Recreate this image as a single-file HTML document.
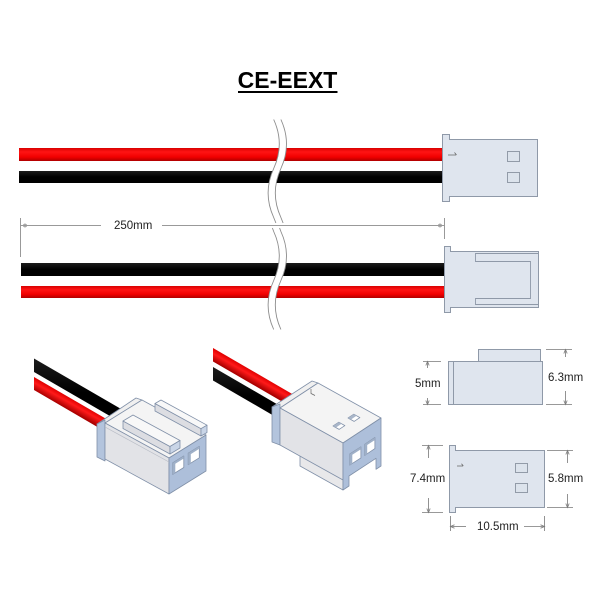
<!DOCTYPE html>
<html><head><meta charset="utf-8"><style>
html,body{margin:0;padding:0;background:#fff;}
svg{display:block;}
text{font-family:"Liberation Sans",Arial,sans-serif;}
</style></head><body>
<svg width="600" height="600" viewBox="0 0 600 600" xmlns="http://www.w3.org/2000/svg">
<defs>
<linearGradient id="rg" x1="0" y1="0" x2="0" y2="1">
<stop offset="0" stop-color="#d80000"/><stop offset="0.3" stop-color="#ff1414"/><stop offset="0.7" stop-color="#f00000"/><stop offset="1" stop-color="#b00000"/>
</linearGradient>
<linearGradient id="bk" x1="0" y1="0" x2="0" y2="1">
<stop offset="0" stop-color="#1c1c1c"/><stop offset="0.5" stop-color="#000"/><stop offset="1" stop-color="#000"/>
</linearGradient>
<linearGradient id="rgL" gradientUnits="userSpaceOnUse" x1="60" y1="392" x2="54.4" y2="401.9">
<stop offset="0" stop-color="#e00000"/><stop offset="0.4" stop-color="#ff1a1a"/><stop offset="1" stop-color="#a80000"/>
</linearGradient>
<linearGradient id="rgR" gradientUnits="userSpaceOnUse" x1="240" y1="363.7" x2="234.4" y2="373.5">
<stop offset="0" stop-color="#e00000"/><stop offset="0.4" stop-color="#ff1a1a"/><stop offset="1" stop-color="#a80000"/>
</linearGradient>
</defs>
<rect width="600" height="600" fill="#fff"/>

<!-- title -->
<text x="287.5" y="88" font-size="23" font-weight="bold" text-anchor="middle" fill="#000">CE-EEXT</text>
<rect x="238" y="91" width="99.5" height="2" fill="#000"/>

<!-- straight wires -->
<rect x="19" y="148" width="424" height="13" fill="url(#rg)"/>
<rect x="19" y="171" width="424" height="12" fill="url(#bk)"/>
<rect x="21" y="263" width="424" height="13" fill="url(#bk)"/>
<rect x="21" y="286" width="424" height="12" fill="url(#rg)"/>

<!-- break marks -->
<g fill="none">
<path d="M277.3,119.5 Q288.5,144 277.3,168.5 Q266.1,193 277.3,217.5 L279.5,223" stroke="#fff" stroke-width="7"/>
<path d="M277.3,119.5 Q288.5,144 277.3,168.5 Q266.1,193 277.3,217.5 L279.5,223" stroke="#8c8c8c" stroke-width="0.9" transform="translate(-3.6,0)"/>
<path d="M277.3,119.5 Q288.5,144 277.3,168.5 Q266.1,193 277.3,217.5 L279.5,223" stroke="#8c8c8c" stroke-width="0.9" transform="translate(3.6,0)"/>
<path d="M276,228 L277.3,231.5 Q288.5,256 277.3,280.5 Q266.1,305 277.3,329.5" stroke="#fff" stroke-width="7"/>
<path d="M276,228 L277.3,231.5 Q288.5,256 277.3,280.5 Q266.1,305 277.3,329.5" stroke="#8c8c8c" stroke-width="0.9" transform="translate(-3.6,0)"/>
<path d="M276,228 L277.3,231.5 Q288.5,256 277.3,280.5 Q266.1,305 277.3,329.5" stroke="#8c8c8c" stroke-width="0.9" transform="translate(3.6,0)"/>
</g>

<!-- 250mm dimension -->
<g stroke="#999" stroke-width="1" fill="none">
<line x1="20.5" y1="218" x2="20.5" y2="257"/>
<line x1="444.5" y1="218" x2="444.5" y2="239"/>
<line x1="21" y1="225.5" x2="101" y2="225.5"/>
<line x1="162" y1="225.5" x2="444" y2="225.5"/>
<circle cx="25" cy="225.5" r="1.4"/>
<circle cx="440" cy="225.5" r="1.4"/>
</g>
<text x="114" y="229" font-size="11.5" fill="#222">250mm</text>

<!-- top flat connector -->
<path d="M442.5,134.5 H449.5 V139.5 H537.5 V196.5 H449.5 V201.5 H442.5 Z" fill="#dfe5ee" stroke="#8f99a8" stroke-width="1"/>
<rect x="507.5" y="151.5" width="12" height="10" fill="#dce3ec" stroke="#8a93a0" stroke-width="0.9"/>
<rect x="507.5" y="172.5" width="12" height="10" fill="#dce3ec" stroke="#8a93a0" stroke-width="0.9"/>
<path d="M448,155 L456,155 M454.5,152.5 L456.5,155" stroke="#666" stroke-width="0.8" fill="none"/>

<!-- bottom flat connector -->
<path d="M444.5,246.5 H450.5 V251.5 H538.5 V307.5 H450.5 V312.5 H444.5 Z" fill="#dfe5ee" stroke="#8f99a8" stroke-width="1"/>
<path d="M538,253.5 L475.5,253.5 L475.5,261.5 L530.5,261.5 L530.5,298.5 L475.5,298.5 L475.5,304.5 L538,304.5" fill="none" stroke="#8f99a8" stroke-width="0.9"/>

<!-- left iso connector -->
<polygon points="34,358.5 128,413 128,426.5 34,372" fill="url(#bk)"/>
<polygon points="34,377 112,422.2 112,435.5 34,390" fill="url(#rgL)"/>
<g stroke="#8090a8" stroke-width="0.8" stroke-linejoin="round">
<polygon points="97,424 136,398 142,400 105,423" fill="#f0f0f0"/>
<polygon points="97,424 105,420 105,461 97,457" fill="#b3c4dd"/>
<polygon points="105,423 142,400 206,435 169,458" fill="#f4f4f4"/>
<polygon points="105,423 169,458 169,494 105,459" fill="#e2e3e7"/>
<polygon points="169,458 206,435 206,471 169,494" fill="#adbfda"/>
<polygon points="155,403.5 201,428.7 201,436 155,411" fill="#dcdde2"/>
<polygon points="155,403.5 161,400 207,425.2 201,428.7" fill="#f8f8f8"/>
<polygon points="201,428.7 207,425.2 207,432.5 201,436" fill="#c9d5e7"/>
<polygon points="123,421 170,446.5 170,454 123,428.5" fill="#dcdde2"/>
<polygon points="123,421 133,415 180,440.5 170,446.5" fill="#f8f8f8"/>
<polygon points="170,446.5 180,440.5 180,448 170,454" fill="#c9d5e7"/>
<polygon points="172.7,462.9 183.8,456 183.8,467.5 172.7,474.4" fill="#fff"/>
<polygon points="188.2,453.2 199.3,446.3 199.3,457.8 188.2,464.7" fill="#fff"/>
</g>
<polygon points="172.7,462.9 183.8,456 183.8,458.5 175.3,463.8 175.3,473 172.7,474.4" fill="#9fb0c8"/>
<polygon points="188.2,453.2 199.3,446.3 199.3,448.8 190.8,454.1 190.8,463.3 188.2,464.7" fill="#9fb0c8"/>
<line x1="105" y1="427" x2="169" y2="462" stroke="#b8bcc6" stroke-width="0.7"/>

<!-- right iso connector -->
<polygon points="213,348 300,398.5 300,412 213,361.5" fill="url(#rgR)"/>
<polygon points="213,367 290,411.7 290,425.2 213,380.5" fill="url(#bk)"/>
<g stroke="#8090a8" stroke-width="0.8" stroke-linejoin="round">
<polygon points="300,455 343,479 343,490 300,466" fill="#e8e8ea"/>
<polygon points="272,407 312,381 318,383 280,408" fill="#f0f0f0"/>
<polygon points="272,407 280,404 280,445 272,442" fill="#b3c4dd"/>
<polygon points="280,408 318,383 381,418 343,443" fill="#f4f4f4"/>
<polygon points="280,408 343,443 343,480 280,445" fill="#e2e3e7"/>
<polygon points="343,443 381,418 381,466 376,469.3 376,458.3 349,476 349,486 343,490" fill="#adbfda"/>
<polygon points="333,426 338.8,422.2 344.9,425.6 339.1,429.4" fill="#fff"/>
<polygon points="348,418 353.8,414.2 359.9,417.6 354.1,421.4" fill="#fff"/>
<polygon points="349.8,454 360.9,446.8 360.9,457.9 349.8,465.1" fill="#fff"/>
<polygon points="364.7,444.3 374.9,437.5 374.9,448.6 364.7,455.4" fill="#fff"/>
</g>
<polygon points="333,426 338.8,422.2 341.5,423.7 336,427.5" fill="#a9b6c9"/>
<polygon points="348,418 353.8,414.2 356.5,415.7 351,419.5" fill="#a9b6c9"/>
<polygon points="349.8,454 360.9,446.8 360.9,449.3 352.3,454.8 352.3,463.8 349.8,465.1" fill="#9fb0c8"/>
<polygon points="364.7,444.3 374.9,437.5 374.9,440 367.2,445 367.2,454.1 364.7,455.4" fill="#9fb0c8"/>
<path d="M311,389 L311,393.5 L315,395.5" stroke="#666" stroke-width="0.7" fill="none"/>

<!-- side view -->
<g stroke="#8f99a8" stroke-width="1" fill="#dfe5ee">
<rect x="478.5" y="349.5" width="62" height="12"/>
<rect x="448.5" y="361.5" width="94" height="43"/>
<line x1="453.5" y1="361.5" x2="453.5" y2="404.5"/>
</g>
<!-- front view -->
<path d="M449.5,445.5 H455.5 V450.5 H544.5 V507.5 H455.5 V512.5 H449.5 Z" fill="#dfe5ee" stroke="#8f99a8" stroke-width="1"/>
<rect x="515.5" y="463.5" width="12" height="9" fill="#dce3ec" stroke="#8a93a0" stroke-width="0.9"/>
<rect x="515.5" y="483.5" width="12" height="9" fill="#dce3ec" stroke="#8a93a0" stroke-width="0.9"/>
<path d="M457,466 L463,466 M461.5,463.8 L463.3,466" stroke="#666" stroke-width="0.8" fill="none"/>

<!-- dimensions -->
<g stroke="#777" stroke-width="0.8" fill="none">
<line x1="423" y1="361.5" x2="441" y2="361.5"/>
<line x1="423" y1="404.5" x2="441" y2="404.5"/>
<line x1="427.5" y1="361.5" x2="427.5" y2="368"/>
<line x1="427.5" y1="398" x2="427.5" y2="404.5"/>
<path d="M425.8,365.5 L427.5,361.5 L429.2,365.5 M425.8,400.5 L427.5,404.5 L429.2,400.5"/>

<line x1="546" y1="349.5" x2="572" y2="349.5"/>
<line x1="546" y1="404.5" x2="572" y2="404.5"/>
<line x1="565.5" y1="349.5" x2="565.5" y2="357"/>
<line x1="565.5" y1="391" x2="565.5" y2="404.5"/>
<path d="M563.8,353.5 L565.5,349.5 L567.2,353.5 M563.8,400.5 L565.5,404.5 L567.2,400.5"/>

<line x1="422" y1="445.5" x2="443" y2="445.5"/>
<line x1="422" y1="512.5" x2="443" y2="512.5"/>
<line x1="428.5" y1="445.5" x2="428.5" y2="458"/>
<line x1="428.5" y1="498" x2="428.5" y2="512.5"/>
<path d="M426.8,449.5 L428.5,445.5 L430.2,449.5 M426.8,508.5 L428.5,512.5 L430.2,508.5"/>

<line x1="547" y1="450.5" x2="573" y2="450.5"/>
<line x1="547" y1="507.5" x2="573" y2="507.5"/>
<line x1="567.5" y1="450.5" x2="567.5" y2="463"/>
<line x1="567.5" y1="494" x2="567.5" y2="507.5"/>
<path d="M565.8,454.5 L567.5,450.5 L569.2,454.5 M565.8,503.5 L567.5,507.5 L569.2,503.5"/>

<line x1="450.5" y1="516" x2="450.5" y2="531"/>
<line x1="544.5" y1="516" x2="544.5" y2="531"/>
<line x1="450.5" y1="526.5" x2="466" y2="526.5"/>
<line x1="524" y1="526.5" x2="544.5" y2="526.5"/>
<path d="M454.5,524.8 L450.5,526.5 L454.5,528.2 M540.5,524.8 L544.5,526.5 L540.5,528.2"/>
</g>
<g font-size="11.5" fill="#222">
<text x="415" y="387">5mm</text>
<text x="548" y="381">6.3mm</text>
<text x="410" y="482">7.4mm</text>
<text x="548" y="482">5.8mm</text>
<text x="477" y="530">10.5mm</text>
</g>
</svg>
</body></html>
